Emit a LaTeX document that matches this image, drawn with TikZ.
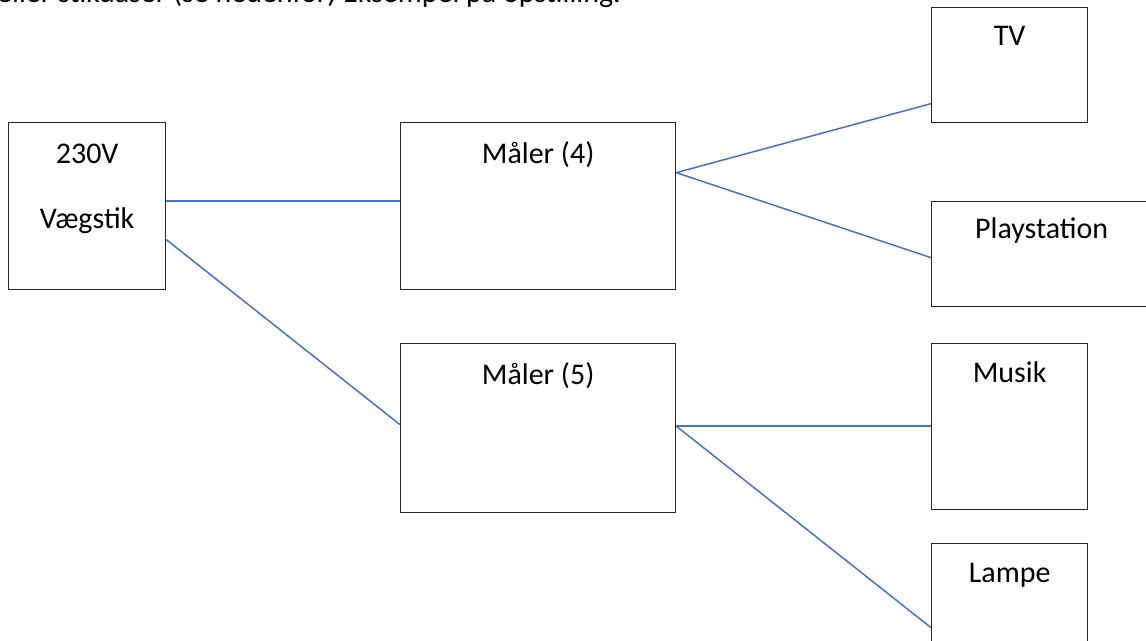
\documentclass[tikz,border=0pt]{standalone}
\usepackage{fontspec}
\setmainfont{Carlito}
\usepackage{tikz}

\begin{document}
\begin{tikzpicture}[x=1pt, y=-1pt,
	box/.style={draw=black!85, line width=1.3pt, inner sep=0pt, anchor=north west},
	lbl/.style={anchor=base, inner sep=0pt, font=\fontsize{30}{36}\selectfont},
	wire/.style={draw={rgb,255:red,68;green,114;blue,196}, line width=1.5pt}]

\useasboundingbox (0,0) rectangle (1146,640);
\clip (0,0) rectangle (1146,640);

%text above
\node[lbl, anchor=base east] (intro) at (621,2.5) {eller stikdåser (se nedenfor) Eksempel på opstilling.};

%boxes
\node[box, minimum width=157pt, minimum height=167pt] (vaeg) at (8,122) {};
\node[box, minimum width=275pt, minimum height=167pt] (m4) at (400,122) {};
\node[box, minimum width=275pt, minimum height=169pt] (m5) at (400,343) {};
\node[box, minimum width=156pt, minimum height=115pt] (tv) at (931,7) {};
\node[box, minimum width=220pt, minimum height=105pt] (ps) at (931,201) {};
\node[box, minimum width=156pt, minimum height=166pt] (musik) at (931,343) {};
\node[box, minimum width=156pt, minimum height=112pt] (lampe) at (931,543) {};

%labels
\node[lbl] (vaegtop) at ([yshift=-41pt]vaeg.north) {230V};
\node[lbl] (vaegbot) at ([yshift=-106pt]vaeg.north) {Vægstik};
\node[lbl] (m4txt) at ([yshift=-41pt]m4.north) {Måler (4)};
\node[lbl] (m5txt) at ([yshift=-41pt]m5.north) {Måler (5)};
\node[lbl] (tvtxt) at ([yshift=-38pt]tv.north) {TV};
\node[lbl] (pstxt) at ([yshift=-37pt]ps.north) {Playstation};
\node[lbl] (musiktxt) at ([yshift=-39pt]musik.north) {Musik};
\node[lbl] (lampetxt) at ([yshift=-39pt]lampe.north) {Lampe};

%wires
\draw[wire] ([yshift=5pt]vaeg.east) -- ([yshift=5pt]m4.west);
\draw[wire] ([yshift=-33.5pt]vaeg.east) -- ([yshift=3.5pt]m5.west);
\draw[wire] ([yshift=33.5pt]m4.east) -- ([yshift=-38.5pt]tv.west);
\draw[wire] ([yshift=33.5pt]m4.east) -- ([yshift=-3.5pt]ps.west);
\draw[wire] ([yshift=2pt]m5.east) -- ([yshift=0.5pt]musik.west);
\draw[wire] ([yshift=2pt]m5.east) -- ([yshift=-28pt]lampe.west);

\end{tikzpicture}
\end{document}
